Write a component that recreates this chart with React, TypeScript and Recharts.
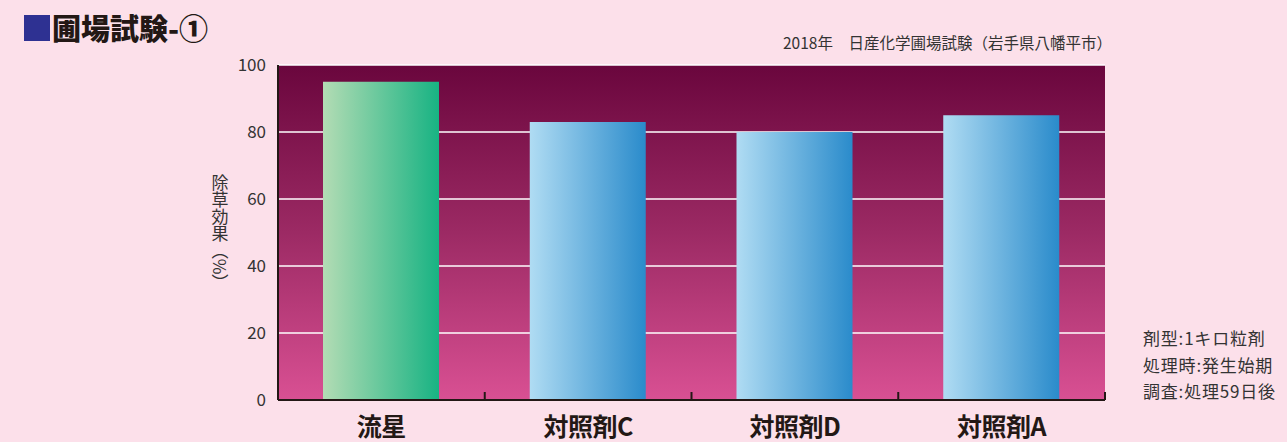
import React from 'react';
import { BarChart, Bar, XAxis, YAxis, CartesianGrid, Cell } from 'recharts';

const categories = ['流星', '対照剤C', '対照剤D', '対照剤A'];
const values = [95, 83, 80, 85];
const yTicks = [0, 20, 40, 60, 80, 100];
const titleText = '圃場試験-①';
const subtitleText = '2018年　日産化学圃場試験（岩手県八幡平市）';
const yLabel = '除草効果（%）';
const notes = ['剤型:1キロ粒剤', '処理時:発生始期', '調査:処理59日後'];

const data = categories.map((name, i) => ({ name, value: values[i] }));

const FONT = '"Noto Sans CJK JP", "Noto Sans", sans-serif';
const DARK = '#231815';

const XTick = (props: any) => {
  const { x, y, payload } = props;
  const off = payload && payload.offset ? payload.offset : 103.4;
  return (
    <g>
      <line x1={x + off} x2={x + off} y1={y} y2={y - 8} stroke={DARK} strokeWidth={2} />
      <text x={x} y={y + 36} textAnchor="middle" fill={DARK} fontFamily={FONT} fontWeight={700} fontSize={25} letterSpacing={-0.5}>
        {payload.value}
      </text>
    </g>
  );
};

const YLabel = (props: any) => {
  const vb = props.viewBox || {};
  const cy = (vb.y || 65) + (vb.height || 335) / 2;
  return (
    <text x={220} y={cy} textAnchor="middle" fill="#333" fontFamily={FONT} fontSize={17} style={{ writingMode: 'vertical-rl' as any }}>
      {yLabel}
    </text>
  );
};

export default function App() {
  return (
    <div style={{ position: 'fixed', left: 0, top: 0, width: 1287, height: 442, background: '#fce0ea', fontFamily: FONT, overflow: 'hidden' }}>
      <div style={{ position: 'absolute', left: 24, top: 15, width: 26, height: 26, background: '#2e3192' }} />
      <div style={{ position: 'absolute', left: 52, top: 7, fontSize: 29, fontWeight: 900, color: DARK, lineHeight: '40px', letterSpacing: 0 }}>
        {titleText}
      </div>
      <div style={{ position: 'absolute', left: 783, top: 32, fontSize: 15.5, color: '#333', lineHeight: '20px', whiteSpace: 'nowrap' }}>
        {subtitleText}
      </div>
      <div style={{ position: 'absolute', left: 1143, top: 325, fontSize: 17, letterSpacing: 0.8, color: '#333', lineHeight: '26.5px', whiteSpace: 'nowrap' }}>
        {notes.map((n) => (
          <div key={n}>{n}</div>
        ))}
      </div>
      <div style={{ position: 'absolute', left: 0, top: 0 }}>
        <BarChart width={1287} height={442} data={data} margin={{ top: 65, right: 182, bottom: 0, left: 218 }} barSize={116}>
          <defs>
            <linearGradient id="bgGrad" x1="0" y1="0" x2="0" y2="1">
              <stop offset="0%" stopColor="#6a063d" />
              <stop offset="50%" stopColor="#9c2a64" />
              <stop offset="100%" stopColor="#d95093" />
            </linearGradient>
            <linearGradient id="greenGrad" x1="0" y1="0" x2="1" y2="0">
              <stop offset="0%" stopColor="#b3dcb4" />
              <stop offset="100%" stopColor="#18b383" />
            </linearGradient>
            <linearGradient id="blueGrad" x1="0" y1="0" x2="1" y2="0">
              <stop offset="0%" stopColor="#b0dcf3" />
              <stop offset="100%" stopColor="#2a8bcb" />
            </linearGradient>
          </defs>
          <CartesianGrid vertical={false} fill="url(#bgGrad)" stroke="#ffffff" strokeWidth={1.5} strokeOpacity={1} />
          <XAxis
            dataKey="name"
            height={42}
            axisLine={{ stroke: DARK, strokeWidth: 2 }}
            tickLine={false}
            tickSize={0}
            tickMargin={0}
            tick={<XTick />}
            interval={0}
          />
          <XAxis xAxisId="top" orientation="top" dataKey="name" height={0} tick={false} tickLine={false} axisLine={{ stroke: DARK, strokeWidth: 2 }} />
          <YAxis
            width={60}
            domain={[0, 100]}
            ticks={yTicks}
            interval={0}
            axisLine={{ stroke: DARK, strokeWidth: 2 }}
            tickLine={false}
            tickMargin={6}
            tick={{ fill: '#333', fontSize: 17, fontFamily: FONT }}
            label={<YLabel />}
          />
          <Bar dataKey="value" isAnimationActive={false}>
            {data.map((d, i) => (
              <Cell key={d.name} fill={i === 0 ? 'url(#greenGrad)' : 'url(#blueGrad)'} />
            ))}
          </Bar>
        </BarChart>
      </div>
    </div>
  );
}
